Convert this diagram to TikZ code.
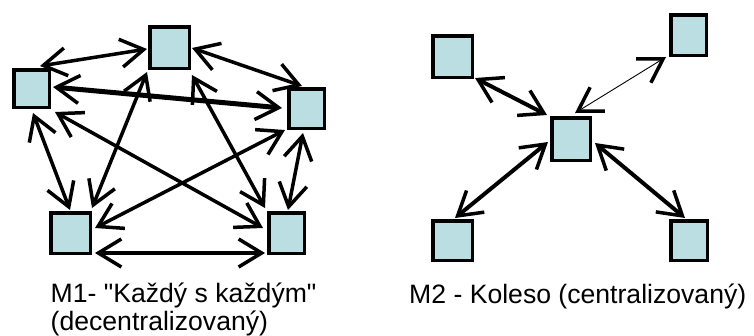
\documentclass[tikz,border=0pt]{standalone}
\usepackage{fontspec}
\setmainfont{Liberation Sans}[Ligatures=TeXOff]
\usetikzlibrary{arrows.meta,calc}
\definecolor{boxfill}{RGB}{186,222,225}
\begin{document}
\begin{tikzpicture}[x=1pt,y=-1pt,
  box/.style={draw=black,line width=3.5pt,fill=boxfill,inner sep=0pt,outer sep=1.75pt},
  barb/.tip={Straight Barb[length=23pt,width=28pt,line width=3.5pt]},
  link/.style={line width=3.5pt,barb-barb},
  heavylink/.style={line width=5pt,barb-barb},
  thinlink/.style={line width=0.9pt,barb-barb},
  caption/.style={anchor=base west,inner sep=0pt,font=\fontsize{26.6}{30}\selectfont}
]
\useasboundingbox (0,0) rectangle (754,335);

% M1: every node linked with every other
\node[box,minimum width=39.5pt,minimum height=41.5pt] (T)  at (169.5,47.5) {};
\node[box,minimum width=35.5pt,minimum height=37.5pt] (L)  at (31.5,88.5) {};
\node[box,minimum width=35.5pt,minimum height=39.5pt] (R)  at (306.5,108.5) {};
\node[box,minimum width=39.5pt,minimum height=40.5pt] (BL) at (70.5,233) {};
\node[box,minimum width=35.5pt,minimum height=40.5pt] (BR) at (286.5,233) {};

\draw[link] ($(L.north)+(8.5,-2)$) -- ($(T.west)+(-1,1.5)$);
\draw[link] ($(T.east)+(1,0.5)$) -- ($(R.north)+(-4.5,-1)$);
\draw[heavylink] ($(L.east)+(2,-1.5)$) -- ($(R.west)+(-5,-0.5)$);
\draw[link] ($(L.south)+(1.5,4)$) -- ($(BL.north)+(-0.5,-1)$);
\draw[link] ($(L.south east)+(4,3)$) -- ($(BR.west)+(-4,-5)$);
\draw[link] ($(T.south west)+(-1,2)$) -- ($(BL.north east)+(0,-3)$);
\draw[link] ($(T.south east)+(1,5)$) -- ($(BR.north west)+(-2,-3)$);
\draw[link] ($(R.south west)+(-2,0)$) -- ($(BL.east)+(3,-5)$);
\draw[link] ($(R.south)+(-3.5,3)$) -- ($(BR.north)+(1.5,-1)$);
\draw[link] ($(BL.south east)+(3,-2)$) -- ($(BR.south west)+(-2,-2)$);

\node[caption] (c1) at (50.5,302) {M1- "Každý s každým"};
\node[caption] (c1b) at (50.5,330) {(decentralizovaný)};

% M2: wheel around a central node
\node[box,minimum width=39.5pt,minimum height=41.5pt] (A) at (452.5,56.5) {};
\node[box,minimum width=35.5pt,minimum height=40.5pt] (B) at (688.5,35) {};
\node[box,minimum width=38.5pt,minimum height=42.5pt] (C) at (571,139) {};
\node[box,minimum width=39.5pt,minimum height=39.5pt] (D) at (452.5,240.5) {};
\node[box,minimum width=36.5pt,minimum height=39.5pt] (E) at (689,240.5) {};

\draw[link,line width=4pt] ($(C.north west)+(-3,-1)$) -- ($(A.south east)+(1,-1)$);
\draw[thinlink] ($(C.north)+(4,-3)$) -- ($(B.south west)+(-3,0)$);
\draw[link,line width=4pt] ($(C.west)+(-2,3)$) -- ($(D.north)+(2.5,-1)$);
\draw[link,line width=4pt] ($(C.east)+(3,4)$) -- ($(E.north)+(-4,-1)$);

\node[caption] (c2) at (409,303) {M2 - Koleso (centralizovaný)};
\end{tikzpicture}
\end{document}
